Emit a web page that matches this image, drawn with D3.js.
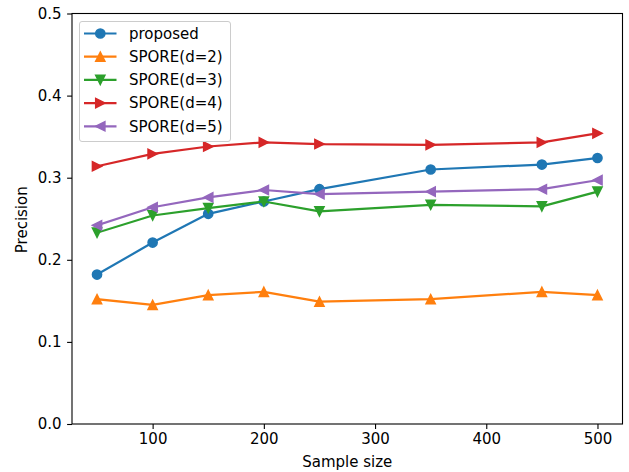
<!DOCTYPE html>
<html><head><meta charset="utf-8">
<script src="https://cdn.jsdelivr.net/npm/d3@7"></script>
<style>body{margin:0;background:#fff}svg text{font-family:"DejaVu Sans",sans-serif}</style>
</head><body><svg id="c" width="629" height="472"></svg>
<script>
const sampleSizes = [50, 100, 150, 200, 250, 350, 450, 500];
const proposed = [0.182, 0.221, 0.256, 0.271, 0.286, 0.310, 0.316, 0.324];
const spore2 = [0.152, 0.145, 0.157, 0.161, 0.149, 0.152, 0.161, 0.157];
const spore3 = [0.233, 0.254, 0.263, 0.271, 0.259, 0.267, 0.265, 0.283];
const spore4 = [0.314, 0.329, 0.338, 0.343, 0.341, 0.340, 0.343, 0.354];
const spore5 = [0.242, 0.264, 0.276, 0.285, 0.280, 0.283, 0.286, 0.297];
const xTicks = [100, 200, 300, 400, 500];
const yTicks = [0.0, 0.1, 0.2, 0.3, 0.4, 0.5];

const series = [
  {name: "proposed", values: proposed, color: "#1f77b4", marker: "o"},
  {name: "SPORE(d=2)", values: spore2, color: "#ff7f0e", marker: "^"},
  {name: "SPORE(d=3)", values: spore3, color: "#2ca02c", marker: "v"},
  {name: "SPORE(d=4)", values: spore4, color: "#d62728", marker: ">"},
  {name: "SPORE(d=5)", values: spore5, color: "#9467bd", marker: "<"}
];

const L = 72, R = 622.5, T = 13.5, B = 424;
const svg = d3.select("#c");
const x = d3.scaleLinear().domain([27.5, 522.5]).range([L, R]);
const y = d3.scaleLinear().domain([0, 0.5]).range([B, T]);

const fs = 15;
const xAxis = svg.append("g").attr("transform", `translate(0,${B})`)
  .call(d3.axisBottom(x).tickValues(xTicks).tickSize(4.9).tickPadding(4).tickFormat(d3.format("d")));
const yAxis = svg.append("g").attr("transform", `translate(${L},0)`)
  .call(d3.axisLeft(y).tickValues(yTicks).tickSize(4.9).tickPadding(5.5).tickFormat(d3.format(".1f")));
[xAxis, yAxis].forEach(a => {
  a.select(".domain").remove();
  a.selectAll("line").attr("stroke", "#000").attr("stroke-width", 1.1);
  a.selectAll("text").attr("font-size", fs).attr("fill", "#000").attr("font-family", "DejaVu Sans");
});

svg.append("rect").attr("x", L).attr("y", T).attr("width", R - L).attr("height", B - T)
  .attr("fill", "none").attr("stroke", "#000").attr("stroke-width", 1.1);

function markerPath(m, s) {
  const h = s / 2;
  if (m === "o") return d3.symbol().type(d3.symbolCircle).size(Math.PI * h * h)();
  if (m === "^") return `M0,${-h}L${h},${h}L${-h},${h}Z`;
  if (m === "v") return `M0,${h}L${h},${-h}L${-h},${-h}Z`;
  if (m === ">") return `M${h},0L${-h},${h}L${-h},${-h}Z`;
  if (m === "<") return `M${-h},0L${h},${h}L${h},${-h}Z`;
}
const ms = 9.2;
const lw = 2.2;
const line = d3.line().x((d, i) => x(sampleSizes[i])).y(d => y(d));
series.forEach(s => {
  const g = svg.append("g");
  g.append("path").datum(s.values).attr("d", line).attr("fill", "none")
    .attr("stroke", s.color).attr("stroke-width", lw).attr("stroke-linejoin", "round").attr("stroke-linecap", "square");
  g.selectAll("path.m").data(s.values).enter().append("path").attr("class", "m")
    .attr("transform", (d, i) => `translate(${x(sampleSizes[i])},${y(d)})`)
    .attr("d", markerPath(s.marker, ms)).attr("fill", s.color).attr("stroke", s.color).attr("stroke-width", 1.5);
});

// legend
const lg = svg.append("g");
lg.append("rect").attr("x", 79.5).attr("y", 21.5).attr("width", 151).attr("height", 120).attr("rx", 2.5)
  .attr("fill", "#fff").attr("fill-opacity", 0.8).attr("stroke", "#cccccc").attr("stroke-width", 1);
series.forEach((s, i) => {
  const cy = 33.5 + i * 23.2;
  lg.append("line").attr("x1", 84).attr("x2", 116.5).attr("y1", cy).attr("y2", cy)
    .attr("stroke", s.color).attr("stroke-width", lw);
  lg.append("path").attr("transform", `translate(100.3,${cy})`).attr("d", markerPath(s.marker, ms))
    .attr("fill", s.color).attr("stroke", s.color).attr("stroke-width", 1.5);
  lg.append("text").attr("x", 129).attr("y", cy).attr("dy", "0.35em").attr("font-size", fs).text(s.name);
});

svg.append("text").attr("x", (L + R) / 2).attr("y", 467).attr("text-anchor", "middle").attr("font-size", fs).text("Sample size");
svg.append("text").attr("transform", `translate(26.5,${(T + B) / 2 + 1}) rotate(-90)`).attr("text-anchor", "middle").attr("font-size", fs).text("Precision");
</script></body></html>
